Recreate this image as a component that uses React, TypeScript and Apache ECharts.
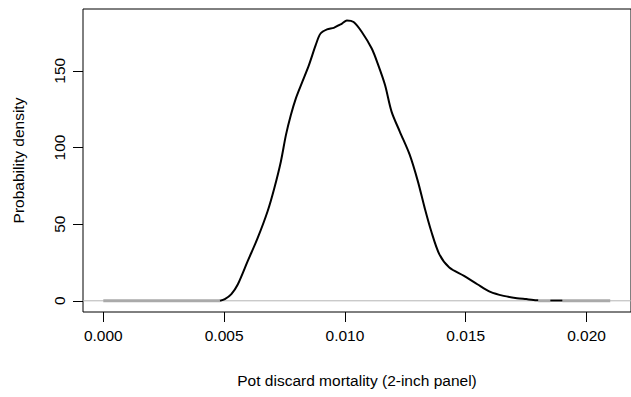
import React, { useEffect, useRef } from "react";
import * as echarts from "echarts";

// Density curve (black)
const densX = [0.00483, 0.00503, 0.0053, 0.00557, 0.00598, 0.00639, 0.0068, 0.00708, 0.00735, 0.00756, 0.00776, 0.00797, 0.00824, 0.00851, 0.00879, 0.00899, 0.00926, 0.00954, 0.00974, 0.00988, 0.01008, 0.01036, 0.0107, 0.01111, 0.01138, 0.01166, 0.01193, 0.01227, 0.01268, 0.01302, 0.0133, 0.01357, 0.01391, 0.01432, 0.01493, 0.01548, 0.01602, 0.01657, 0.01712, 0.0175, 0.0178, 0.018];
const densY = [0, 1.1, 4.4, 10.8, 26, 41, 58.4, 73.6, 90.9, 108.2, 121, 132, 142.9, 153.7, 166.7, 174.3, 177, 178, 179.7, 180.8, 182.8, 181.8, 175.3, 164.5, 153.7, 140.7, 123.4, 110.4, 95.3, 77.9, 60.6, 45.5, 30.3, 21.7, 16.2, 10.8, 5.8, 3.2, 1.7, 1.1, 0.6, 0.4];
// short black tail segment
const tailX = [0.0185, 0.019];
const tailY = [0.2, 0.2];
// gray zero-density segments [start, end]
const graySegments = [[0, 0.00483], [0.018, 0.0185], [0.019, 0.02098]];

const xTicks = [0, 0.005, 0.01, 0.015, 0.02];
const yTicks = [0, 50, 100, 150];
const xRange = [-0.00084, 0.02184];
const yRange = [-7.3, 190.3];

const FONT = "'Liberation Sans', Arial, Helvetica, sans-serif";

export default function App() {
  const ref = useRef<HTMLDivElement>(null);
  useEffect(() => {
    if (!ref.current) return;
    const chart = echarts.init(ref.current, null, { renderer: "svg" });
    const curve = densX.map((x, i) => [x, densY[i]]);
    const tail = tailX.map((x, i) => [x, tailY[i]]);
    const graySeries = graySegments.map((seg) => ({
      type: "line",
      data: [[seg[0], 0], [seg[1], 0]],
      symbol: "none",
      lineStyle: { color: "#aaaaaa", width: 3 },
      z: 3,
      silent: true,
    }));
    chart.setOption({
      animation: false,
      backgroundColor: "#ffffff",
      grid: {
        left: 83,
        top: 9,
        width: 553,
        height: 303,
        show: true,
        borderColor: "#000",
        borderWidth: 1,
        backgroundColor: "transparent",
      },
      xAxis: {
        type: "value",
        min: xRange[0],
        max: xRange[1],
        name: "Pot discard mortality (2-inch panel)",
        nameLocation: "middle",
        nameGap: 60,
        nameTextStyle: { fontFamily: FONT, fontSize: 15.5, color: "#000" },
        axisLine: { show: false, onZero: false },
        splitLine: { show: false },
        axisTick: {
          show: true,
          inside: false,
          length: 10,
          customValues: xTicks,
          lineStyle: { color: "#000", width: 1 },
        },
        axisLabel: {
          customValues: xTicks,
          formatter: (v: number) => v.toFixed(3),
          fontFamily: FONT,
          fontSize: 15.5,
          color: "#000",
          margin: 15,
        },
      },
      yAxis: {
        type: "value",
        min: yRange[0],
        max: yRange[1],
        name: "Probability density",
        nameLocation: "middle",
        nameGap: 57,
        nameTextStyle: { fontFamily: FONT, fontSize: 15.5, color: "#000" },
        axisLine: { show: false, onZero: false },
        splitLine: { show: false },
        axisTick: {
          show: true,
          inside: false,
          length: 10,
          customValues: yTicks,
          lineStyle: { color: "#000", width: 1 },
        },
        axisLabel: {
          customValues: yTicks,
          formatter: (v: number) => String(v),
          rotate: 90,
          fontFamily: FONT,
          fontSize: 15.5,
          color: "#000",
          margin: 16,
        },
      },
      series: [
        {
          type: "line",
          data: [[xRange[0], 0], [xRange[1], 0]],
          symbol: "none",
          lineStyle: { color: "#b4b4b4", width: 1 },
          z: 2,
          silent: true,
        },
        ...graySeries,
        {
          type: "line",
          data: curve,
          symbol: "none",
          smooth: 0.3,
          lineStyle: { color: "#000", width: 2 },
          z: 4,
          silent: true,
        },
        {
          type: "line",
          data: tail,
          symbol: "none",
          lineStyle: { color: "#000", width: 2 },
          z: 4,
          silent: true,
        },
      ],
    });
    return () => chart.dispose();
  }, []);
  return (
    <div
      ref={ref}
      style={{ position: "fixed", left: 0, top: 0, width: 631, height: 397, background: "#fff" }}
    />
  );
}
